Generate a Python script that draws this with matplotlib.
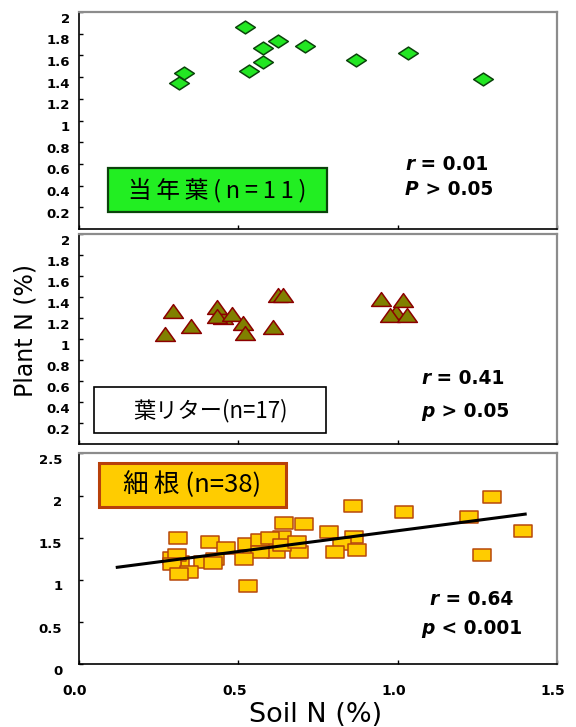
import matplotlib
matplotlib.use('Agg')
import matplotlib.pyplot as plt
from matplotlib.path import Path
from matplotlib.patches import Rectangle
from matplotlib.transforms import ScaledTranslation

# current-year leaves (当年葉), n=11
leaf_x = [0.314, 0.330, 0.521, 0.533, 0.576, 0.577, 0.625, 0.710, 0.869, 1.033, 1.267]
leaf_y = [1.343, 1.436, 1.865, 1.457, 1.664, 1.540, 1.729, 1.689, 1.556, 1.621, 1.380]

# leaf litter (葉リター), n=17
litter_x = [0.453, 0.994, 0.296, 0.270, 0.350, 0.434, 0.434, 0.479, 0.516, 0.521,
            0.610, 0.625, 0.639, 0.948, 1.018, 0.976, 1.028]
litter_y = [1.212, 1.254, 1.266, 1.044, 1.126, 1.307, 1.221, 1.238, 1.149, 1.053,
            1.116, 1.419, 1.419, 1.381, 1.371, 1.228, 1.228]

# fine roots (細根), n=38
root_x = [0.317, 0.291, 0.390, 0.542, 0.580, 0.636, 0.312, 0.411, 0.461, 0.526,
          0.568, 0.599, 0.643, 0.707, 0.785, 0.861, 1.020, 1.225, 1.264, 1.295,
          1.394, 0.864, 0.826, 0.803, 0.871, 0.691, 0.618, 0.636, 0.683, 0.568,
          0.519, 0.531, 0.427, 0.421, 0.309, 0.291, 0.346, 0.314]
root_y = [1.216, 1.256, 1.216, 1.354, 1.420, 1.512, 1.500, 1.453, 1.374, 1.429,
          1.473, 1.500, 1.678, 1.662, 1.564, 1.879, 1.801, 1.745, 1.295, 1.986,
          1.579, 1.512, 1.422, 1.334, 1.354, 1.327, 1.327, 1.413, 1.445, 1.334,
          1.248, 0.928, 1.248, 1.197, 1.295, 1.185, 1.097, 1.066]

# regression line for roots
fit_x = [0.12, 1.40]
fit_y = [1.15, 1.78]

xticks = [0.0, 0.5, 1.0, 1.5]
xtick_labels = ['0.0', '0.5', '1.0', '1.5']
yticks_leaf = [0.2, 0.4, 0.6, 0.8, 1.0, 1.2, 1.4, 1.6, 1.8, 2.0]
ytick_labels_leaf = ['0.2', '0.4', '0.6', '0.8', '1', '1.2', '1.4', '1.6', '1.8', '2']
yticks_root = [0, 0.5, 1.0, 1.5, 2.0, 2.5]
ytick_labels_root = ['0', '0.5', '1', '1.5', '2', '2.5']

cjk = ['Noto Sans CJK JP', 'DejaVu Sans']


def shape(verts):
    # closed marker path, flattened shapes like the original
    return Path(verts + [verts[0]], closed=True)


diamond = shape([(-1, 0), (0, 0.65), (1, 0), (0, -0.65)])
triangle = shape([(-1, -0.7), (0, 0.7), (1, -0.7)])
rect = shape([(-1, -0.61), (1, -0.61), (1, 0.61), (-1, 0.61)])

fig = plt.figure(figsize=(5.76, 7.27), dpi=100)
ax1 = fig.add_axes([0.1372, 0.685, 0.8299, 0.2985])
ax2 = fig.add_axes([0.1372, 0.3893, 0.8299, 0.2889])
ax3 = fig.add_axes([0.1372, 0.0862, 0.8299, 0.2902])


def style(ax, ymax, yt, ylab, ypad, show_x):
    ax.set_xlim(0, 1.5)
    ax.set_ylim(0, ymax)
    for s in ['top', 'right']:
        ax.spines[s].set_color('#8c8c8c')
        ax.spines[s].set_linewidth(1.6)
    for s in ['left', 'bottom']:
        ax.spines[s].set_color('black')
        ax.spines[s].set_linewidth(1.2)
    ax.set_yticks(yt, ylab, fontsize=9.5, fontweight='bold')
    if show_x:
        ax.set_xticks(xticks, xtick_labels, fontsize=10, fontweight='bold')
    else:
        ax.set_xticks(xticks, [])
    ax.tick_params(direction='in', length=3, width=1)
    ax.tick_params(axis='y', pad=ypad)
    ax.tick_params(axis='x', pad=14)
    # labels in the original sit a little low
    down = ScaledTranslation(0, -4 / 72, fig.dpi_scale_trans)
    for lab in ax.get_yticklabels():
        lab.set_transform(lab.get_transform() + down)
    left = ScaledTranslation(-3 / 72, 0, fig.dpi_scale_trans)
    for lab in ax.get_xticklabels():
        lab.set_transform(lab.get_transform() + left)


def stat(ax, x, y, sym, rest):
    t = ax.text(x, y, sym, transform=ax.transAxes, fontsize=13.4,
                fontweight='bold', style='italic', va='center', ha='left')
    ax.annotate(rest, xy=(1, 0), xycoords=t, fontsize=13.4,
                fontweight='bold', va='bottom', ha='left')


def label_box(ax, x0, y0, x1, y1, fc, ec, lw, text, size):
    ax.add_patch(Rectangle((x0, y0), x1 - x0, y1 - y0, transform=ax.transAxes,
                           facecolor=fc, edgecolor=ec, linewidth=lw, zorder=3))
    ax.text((x0 + x1) / 2, (y0 + y1) / 2, text, transform=ax.transAxes,
            fontsize=size, family=cjk, ha='center', va='center', zorder=4)


# panel 1: current-year leaves
style(ax1, 2.0, yticks_leaf, ytick_labels_leaf, 6.5, False)
ax1.plot(leaf_x, leaf_y, linestyle='none', marker=diamond, markersize=14.2,
         markerfacecolor='#22e622', markeredgecolor='#0b430b', markeredgewidth=1.1)
label_box(ax1, 0.0613, 0.0797, 0.5182, 0.2797, '#22ee22', '#0b430b', 1.6,
          '当\u2009年\u2009葉\u2009(\u2009n\u2009=\u20091\u20091\u2009)', 17)
stat(ax1, 0.682, 0.295, 'r', ' = 0.01')
stat(ax1, 0.682, 0.180, 'P', ' > 0.05')

# panel 2: leaf litter
style(ax2, 2.0, yticks_leaf, ytick_labels_leaf, 6.5, False)
ax2.plot(litter_x, litter_y, linestyle='none', marker=triangle, markersize=14.2,
         markerfacecolor='#808000', markeredgecolor='#8b0000', markeredgewidth=1.1)
label_box(ax2, 0.0322, 0.051, 0.5165, 0.270, 'white', 'black', 1.2,
          '葉リター(n=17)', 16)
stat(ax2, 0.716, 0.310, 'r', ' = 0.41')
stat(ax2, 0.716, 0.154, 'p', ' > 0.05')

# panel 3: fine roots
style(ax3, 2.5, yticks_root, ytick_labels_root, 12, True)
ax3.plot(root_x, root_y, linestyle='none', marker=rect, markersize=13.2,
         markerfacecolor='#ffcc00', markeredgecolor='#b8480a', markeredgewidth=1.1)
ax3.plot(fit_x, fit_y, color='black', linewidth=2.2)
label_box(ax3, 0.0418, 0.748, 0.433, 0.956, '#ffcc00', '#b8400a', 2.2,
          '細\u2009根 (n=38)', 18.5)
stat(ax3, 0.734, 0.309, 'r', ' = 0.64')
stat(ax3, 0.716, 0.171, 'p', ' < 0.001')

fig.text(0.045, 0.545, 'Plant N (%)', rotation=90, fontsize=17,
         ha='center', va='center')
fig.text(0.547, 0.0073, 'Soil N (%)', fontsize=19.5, ha='center', va='baseline')

plt.savefig('out.png', dpi=100)
